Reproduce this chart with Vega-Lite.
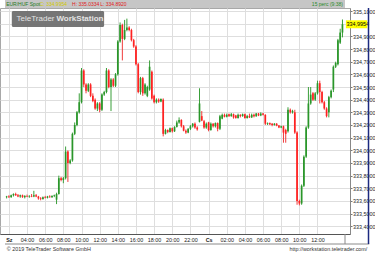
{
 "$schema": "https://vega.github.io/schema/vega-lite/v6.json",
 "width": 350,
 "height": 226,
 "autosize": {"type": "none"},
 "padding": {"left": 0, "top": 8, "right": 25, "bottom": 19},
 "background": "white",
 "config": {
  "view": {"stroke": "#a8a8a8", "strokeWidth": 1},
  "font": "Liberation Sans",
  "text": {"font": "Liberation Sans"},
  "axis": {"labelFont": "Liberation Sans"}
 },
 "data": {"values": [
{"t":1.75,"o":333.63,"h":333.64,"l":333.62,"c":333.635},
{"t":2.0,"o":333.635,"h":333.645,"l":333.625,"c":333.63},
{"t":2.25,"o":333.63,"h":333.65,"l":333.625,"c":333.645},
{"t":2.5,"o":333.645,"h":333.66,"l":333.635,"c":333.655},
{"t":2.75,"o":333.655,"h":333.665,"l":333.64,"c":333.645},
{"t":3.0,"o":333.645,"h":333.655,"l":333.63,"c":333.635},
{"t":3.25,"o":333.635,"h":333.65,"l":333.625,"c":333.645},
{"t":3.5,"o":333.645,"h":333.65,"l":333.625,"c":333.63},
{"t":3.75,"o":333.63,"h":333.645,"l":333.62,"c":333.64},
{"t":4.0,"o":333.64,"h":333.65,"l":333.63,"c":333.635},
{"t":4.25,"o":333.635,"h":333.645,"l":333.625,"c":333.64},
{"t":4.5,"o":333.64,"h":333.655,"l":333.63,"c":333.635},
{"t":4.75,"o":333.635,"h":333.68,"l":333.63,"c":333.645},
{"t":5.0,"o":333.645,"h":333.655,"l":333.63,"c":333.635},
{"t":5.25,"o":333.635,"h":333.64,"l":333.61,"c":333.62},
{"t":5.5,"o":333.62,"h":333.63,"l":333.605,"c":333.615},
{"t":5.75,"o":333.615,"h":333.635,"l":333.61,"c":333.63},
{"t":6.0,"o":333.63,"h":333.64,"l":333.62,"c":333.625},
{"t":6.25,"o":333.625,"h":333.64,"l":333.62,"c":333.635},
{"t":6.5,"o":333.635,"h":333.645,"l":333.625,"c":333.63},
{"t":6.75,"o":333.63,"h":333.645,"l":333.625,"c":333.64},
{"t":7.0,"o":333.64,"h":333.65,"l":333.63,"c":333.645},
{"t":7.25,"o":333.61,"h":333.665,"l":333.575,"c":333.655},
{"t":7.5,"o":333.655,"h":333.80,"l":333.65,"c":333.78},
{"t":7.75,"o":333.78,"h":333.79,"l":333.755,"c":333.765},
{"t":8.0,"o":333.765,"h":333.79,"l":333.74,"c":333.78},
{"t":8.25,"o":333.78,"h":334.03,"l":333.77,"c":333.99},
{"t":8.5,"o":333.99,"h":334.00,"l":333.75,"c":333.90},
{"t":8.75,"o":333.90,"h":333.93,"l":333.89,"c":333.92},
{"t":9.0,"o":333.92,"h":334.14,"l":333.91,"c":334.13},
{"t":9.25,"o":334.13,"h":334.22,"l":334.12,"c":334.20},
{"t":9.5,"o":334.20,"h":334.31,"l":334.19,"c":334.30},
{"t":9.75,"o":334.30,"h":334.45,"l":334.29,"c":334.38},
{"t":10.0,"o":334.38,"h":334.65,"l":334.37,"c":334.63},
{"t":10.25,"o":334.63,"h":334.64,"l":334.50,"c":334.52},
{"t":10.5,"o":334.52,"h":334.53,"l":334.45,"c":334.47},
{"t":10.75,"o":334.47,"h":334.53,"l":334.46,"c":334.52},
{"t":11.0,"o":334.52,"h":334.53,"l":334.42,"c":334.43},
{"t":11.25,"o":334.43,"h":334.45,"l":334.38,"c":334.39},
{"t":11.5,"o":334.40,"h":334.41,"l":334.32,"c":334.33},
{"t":11.75,"o":334.33,"h":334.38,"l":334.31,"c":334.37},
{"t":12.0,"o":334.37,"h":334.38,"l":334.30,"c":334.32},
{"t":12.25,"o":334.32,"h":334.45,"l":334.31,"c":334.44},
{"t":12.5,"o":334.44,"h":334.47,"l":334.43,"c":334.46},
{"t":12.75,"o":334.46,"h":334.65,"l":334.45,"c":334.63},
{"t":13.0,"o":334.63,"h":334.64,"l":334.49,"c":334.50},
{"t":13.25,"o":334.50,"h":334.57,"l":334.31,"c":334.56},
{"t":13.5,"o":334.56,"h":334.57,"l":334.50,"c":334.51},
{"t":13.75,"o":334.51,"h":334.61,"l":334.50,"c":334.60},
{"t":14.0,"o":334.60,"h":334.87,"l":334.59,"c":334.86},
{"t":14.25,"o":334.86,"h":335.01,"l":334.85,"c":334.99},
{"t":14.5,"o":334.99,"h":335.00,"l":334.71,"c":334.88},
{"t":14.75,"o":334.88,"h":335.03,"l":334.87,"c":334.95},
{"t":15.0,"o":334.95,"h":335.04,"l":334.94,"c":334.97},
{"t":15.25,"o":334.97,"h":334.98,"l":334.94,"c":334.95},
{"t":15.5,"o":334.95,"h":334.96,"l":334.86,"c":334.87},
{"t":15.75,"o":334.87,"h":334.88,"l":334.81,"c":334.82},
{"t":16.0,"o":334.82,"h":334.83,"l":334.67,"c":334.68},
{"t":16.25,"o":334.68,"h":334.69,"l":334.45,"c":334.46},
{"t":16.5,"o":334.46,"h":334.58,"l":334.44,"c":334.57},
{"t":16.75,"o":334.57,"h":334.58,"l":334.43,"c":334.45},
{"t":17.0,"o":334.45,"h":334.53,"l":334.44,"c":334.52},
{"t":17.25,"o":334.43,"h":334.51,"l":334.42,"c":334.50},
{"t":17.5,"o":334.48,"h":334.71,"l":334.47,"c":334.66},
{"t":17.75,"o":334.62,"h":334.63,"l":334.40,"c":334.41},
{"t":18.0,"o":334.43,"h":334.44,"l":334.37,"c":334.38},
{"t":18.25,"o":334.38,"h":334.41,"l":334.37,"c":334.40},
{"t":18.5,"o":334.40,"h":334.41,"l":334.375,"c":334.385},
{"t":18.75,"o":334.385,"h":334.41,"l":334.38,"c":334.405},
{"t":19.0,"o":334.40,"h":334.41,"l":334.11,"c":334.13},
{"t":19.25,"o":334.13,"h":334.17,"l":334.125,"c":334.16},
{"t":19.5,"o":334.16,"h":334.165,"l":334.135,"c":334.145},
{"t":19.75,"o":334.145,"h":334.18,"l":334.14,"c":334.175},
{"t":20.0,"o":334.175,"h":334.18,"l":334.14,"c":334.15},
{"t":20.25,"o":334.15,"h":334.19,"l":334.145,"c":334.185},
{"t":20.5,"o":334.185,"h":334.235,"l":334.18,"c":334.22},
{"t":20.75,"o":334.22,"h":334.26,"l":334.21,"c":334.24},
{"t":21.0,"o":334.24,"h":334.245,"l":334.18,"c":334.19},
{"t":21.25,"o":334.19,"h":334.20,"l":334.15,"c":334.155},
{"t":21.5,"o":334.155,"h":334.165,"l":334.13,"c":334.14},
{"t":21.75,"o":334.14,"h":334.175,"l":334.135,"c":334.17},
{"t":22.0,"o":334.17,"h":334.20,"l":334.16,"c":334.19},
{"t":22.25,"o":334.19,"h":334.215,"l":334.18,"c":334.21},
{"t":22.5,"o":334.21,"h":334.22,"l":334.17,"c":334.18},
{"t":22.75,"o":334.18,"h":334.19,"l":334.155,"c":334.165},
{"t":23.0,"o":334.225,"h":334.49,"l":334.22,"c":334.37},
{"t":23.25,"o":334.27,"h":334.31,"l":334.23,"c":334.235},
{"t":23.5,"o":334.23,"h":334.24,"l":334.17,"c":334.18},
{"t":23.75,"o":334.18,"h":334.22,"l":334.17,"c":334.21},
{"t":24.0,"o":334.22,"h":334.225,"l":334.15,"c":334.16},
{"t":24.25,"o":334.16,"h":334.22,"l":334.155,"c":334.21},
{"t":24.5,"o":334.21,"h":334.215,"l":334.18,"c":334.19},
{"t":24.75,"o":334.19,"h":334.22,"l":334.18,"c":334.215},
{"t":25.0,"o":334.215,"h":334.22,"l":334.15,"c":334.17},
{"t":25.25,"o":334.17,"h":334.28,"l":334.16,"c":334.27},
{"t":25.5,"o":334.25,"h":334.29,"l":334.245,"c":334.28},
{"t":25.75,"o":334.28,"h":334.29,"l":334.26,"c":334.265},
{"t":26.0,"o":334.265,"h":334.29,"l":334.26,"c":334.28},
{"t":26.25,"o":334.285,"h":334.29,"l":334.265,"c":334.27},
{"t":26.5,"o":334.27,"h":334.295,"l":334.265,"c":334.285},
{"t":26.75,"o":334.285,"h":334.29,"l":334.25,"c":334.26},
{"t":27.0,"o":334.275,"h":334.28,"l":334.25,"c":334.255},
{"t":27.25,"o":334.255,"h":334.29,"l":334.25,"c":334.28},
{"t":27.5,"o":334.28,"h":334.285,"l":334.26,"c":334.27},
{"t":27.75,"o":334.27,"h":334.29,"l":334.265,"c":334.285},
{"t":28.0,"o":334.285,"h":334.29,"l":334.25,"c":334.255},
{"t":28.25,"o":334.255,"h":334.28,"l":334.25,"c":334.27},
{"t":28.5,"o":334.27,"h":334.29,"l":334.255,"c":334.26},
{"t":28.75,"o":334.26,"h":334.29,"l":334.255,"c":334.28},
{"t":29.0,"o":334.28,"h":334.29,"l":334.26,"c":334.27},
{"t":29.25,"o":334.27,"h":334.295,"l":334.265,"c":334.29},
{"t":29.5,"o":334.29,"h":334.295,"l":334.27,"c":334.275},
{"t":29.75,"o":334.275,"h":334.30,"l":334.27,"c":334.29},
{"t":30.0,"o":334.29,"h":334.295,"l":334.275,"c":334.28},
{"t":30.25,"o":334.28,"h":334.285,"l":334.20,"c":334.21},
{"t":30.5,"o":334.21,"h":334.22,"l":334.20,"c":334.215},
{"t":30.75,"o":334.215,"h":334.22,"l":334.20,"c":334.205},
{"t":31.0,"o":334.21,"h":334.215,"l":334.19,"c":334.20},
{"t":31.25,"o":334.20,"h":334.215,"l":334.195,"c":334.21},
{"t":31.5,"o":334.21,"h":334.215,"l":334.19,"c":334.195},
{"t":31.75,"o":334.195,"h":334.20,"l":334.175,"c":334.18},
{"t":32.0,"o":334.18,"h":334.195,"l":334.175,"c":334.19},
{"t":32.25,"o":334.19,"h":334.195,"l":334.06,"c":334.14},
{"t":32.5,"o":334.16,"h":334.17,"l":334.06,"c":334.13},
{"t":32.75,"o":334.15,"h":334.34,"l":334.14,"c":334.32},
{"t":33.0,"o":334.32,"h":334.33,"l":334.29,"c":334.30},
{"t":33.25,"o":334.30,"h":334.32,"l":334.29,"c":334.31},
{"t":33.5,"o":334.30,"h":334.32,"l":334.13,"c":334.14},
{"t":33.75,"o":334.14,"h":334.15,"l":333.57,"c":333.60},
{"t":34.0,"o":333.60,"h":333.61,"l":333.565,"c":333.58},
{"t":34.25,"o":333.58,"h":333.73,"l":333.57,"c":333.72},
{"t":34.5,"o":333.72,"h":333.96,"l":333.71,"c":333.95},
{"t":34.75,"o":333.95,"h":334.19,"l":333.94,"c":334.18},
{"t":35.0,"o":334.18,"h":334.50,"l":334.17,"c":334.37},
{"t":35.25,"o":334.37,"h":334.50,"l":334.36,"c":334.44},
{"t":35.5,"o":334.45,"h":334.46,"l":334.39,"c":334.40},
{"t":35.75,"o":334.40,"h":334.46,"l":334.39,"c":334.45},
{"t":36.0,"o":334.45,"h":334.55,"l":334.44,"c":334.53},
{"t":36.25,"o":334.53,"h":334.55,"l":334.37,"c":334.46},
{"t":36.5,"o":334.46,"h":334.47,"l":334.37,"c":334.38},
{"t":36.75,"o":334.38,"h":334.39,"l":334.32,"c":334.33},
{"t":37.0,"o":334.33,"h":334.34,"l":334.26,"c":334.27},
{"t":37.25,"o":334.30,"h":334.43,"l":334.26,"c":334.42},
{"t":37.5,"o":334.42,"h":334.48,"l":334.41,"c":334.47},
{"t":37.75,"o":334.48,"h":334.67,"l":334.46,"c":334.66},
{"t":38.0,"o":334.66,"h":334.70,"l":334.65,"c":334.69},
{"t":38.25,"o":334.68,"h":334.88,"l":334.67,"c":334.87},
{"t":38.5,"o":334.85,"h":334.96,"l":334.84,"c":334.93},
{"t":38.75,"o":334.93,"h":335.0334,"l":334.892,"c":334.9954}
 ]},
 "layer": [
  {
   "mark": {"type": "rule", "strokeWidth": 1},
   "encoding": {
    "x": {"field": "t", "type": "quantitative",
     "scale": {"domain": [1.571, 39.03], "zero": false, "nice": false},
     "axis": {"orient": "bottom", "title": null, "tickCount": 60,
      "values": [2,4,6,8,10,12,14,16,18,20,22,24,26,28,30,32,34,36],
      "labelExpr": "datum.value == 2 ? 'Sz' : datum.value == 24 ? 'Cs' : ((datum.value % 24) < 10 ? '0' : '') + (datum.value % 24) + ':00'",
      "labelFontWeight": {"condition": {"test": "datum.value == 2 || datum.value == 24", "value": "bold"}, "value": "normal"},
      "ticks": false, "labelPadding": 3, "labelFontSize": 5.4, "labelColor": "#222222",
      "domainColor": "#555555", "grid": true, "gridColor": "#dedede",
      "labelFlush": false, "labelOverlap": false, "labelBound": false}},
    "y": {"field": "l", "type": "quantitative",
     "scale": {"domain": [333.339, 335.124], "zero": false, "nice": false},
     "axis": {"orient": "right", "title": null, "tickCount": 60,
      "values": [333.4,333.5,333.6,333.7,333.8,333.9,334.0,334.1,334.2,334.3,334.4,334.5,334.6,334.7,334.8,334.9,335.0,335.1],
      "labelExpr": "abs(datum.value - 335.0) < 0.001 ? '' : replace(format(datum.value, '.4f'), '.', ',')",
      "tickSize": 2, "tickColor": "#777777", "labelPadding": 0.5, "labelFontSize": 5.4,
      "labelColor": "#222222", "domainColor": "#888888", "grid": true, "gridColor": "#dedede",
      "labelAlign": "left", "labelBaseline": "middle", "labelOverlap": false, "labelBound": false}},
    "y2": {"field": "h"},
    "color": {"condition": {"test": "datum.c >= datum.o", "value": "#3a9f3a"}, "value": "#f03c3c"}
   }
  },
  {
   "mark": {"type": "bar", "size": 1.7},
   "encoding": {
    "x": {"field": "t", "type": "quantitative"},
    "y": {"field": "o", "type": "quantitative"},
    "y2": {"field": "c"},
    "color": {"condition": {"test": "datum.c >= datum.o", "value": "#2a962a"}, "value": "#ff2222"}
   }
  },
  {
   "data": {"values": [{}]},
   "mark": {"type": "rect", "color": "#c6c6c6"},
   "encoding": {
    "x": {"datum": 1.571, "type": "quantitative"}, "x2": {"datum": 39.03},
    "y": {"datum": 335.124, "type": "quantitative"}, "y2": {"datum": 335.2}
   }
  },
  {
   "data": {"values": [{}]},
   "mark": {"type": "text", "text": "EUR/HUF Spot", "align": "left", "baseline": "middle", "fontSize": 5, "color": "#1f7a1f"},
   "encoding": {"x": {"datum": 1.70, "type": "quantitative"}, "y": {"datum": 335.157, "type": "quantitative"}}
  },
  {
   "data": {"values": [{}]},
   "mark": {"type": "text", "text": "C: 334.9954", "align": "left", "baseline": "middle", "fontSize": 5, "color": "#d2c800"},
   "encoding": {"x": {"datum": 5.40, "type": "quantitative"}, "y": {"datum": 335.157, "type": "quantitative"}}
  },
  {
   "data": {"values": [{}]},
   "mark": {"type": "text", "text": "H: 335.0334", "align": "left", "baseline": "middle", "fontSize": 5, "color": "#e02020"},
   "encoding": {"x": {"datum": 8.96, "type": "quantitative"}, "y": {"datum": 335.157, "type": "quantitative"}}
  },
  {
   "data": {"values": [{}]},
   "mark": {"type": "text", "text": "L: 334.8920", "align": "left", "baseline": "middle", "fontSize": 5, "color": "#e02020"},
   "encoding": {"x": {"datum": 12.06, "type": "quantitative"}, "y": {"datum": 335.157, "type": "quantitative"}}
  },
  {
   "data": {"values": [{}]},
   "mark": {"type": "text", "text": "15 perc (9:38)", "align": "right", "baseline": "middle", "fontSize": 5, "color": "#2a8a2a"},
   "encoding": {"x": {"datum": 38.81, "type": "quantitative"}, "y": {"datum": 335.157, "type": "quantitative"}}
  },
  {
   "data": {"values": [{}]},
   "mark": {"type": "rect", "color": "#6a6a6a", "opacity": 0.92, "cornerRadius": 1.5},
   "encoding": {
    "x": {"datum": 2.32, "type": "quantitative"}, "x2": {"datum": 12.49},
    "y": {"datum": 335.100, "type": "quantitative"}, "y2": {"datum": 334.974}
   }
  },
  {
   "data": {"values": [{}]},
   "mark": {"type": "text", "text": "TeleTrader", "align": "right", "baseline": "middle", "fontSize": 8, "color": "#e4e4e4"},
   "encoding": {"x": {"datum": 7.03, "type": "quantitative"}, "y": {"datum": 335.037, "type": "quantitative"}}
  },
  {
   "data": {"values": [{}]},
   "mark": {"type": "text", "text": "WorkStation", "align": "left", "baseline": "middle", "fontSize": 8, "fontWeight": "bold", "color": "#e4e4e4"},
   "encoding": {"x": {"datum": 7.24, "type": "quantitative"}, "y": {"datum": 335.037, "type": "quantitative"}}
  },
  {
   "data": {"values": [{}]},
   "mark": {"type": "rect", "color": "#ffff00"},
   "encoding": {
    "x": {"datum": 39.13, "type": "quantitative"}, "x2": {"datum": 41.48},
    "y": {"datum": 335.027, "type": "quantitative"}, "y2": {"datum": 334.964}
   }
  },
  {
   "data": {"values": [{}]},
   "mark": {"type": "text", "text": "334,9954", "align": "left", "baseline": "middle", "fontSize": 5.4, "color": "#000000"},
   "encoding": {"x": {"datum": 39.19, "type": "quantitative"}, "y": {"datum": 334.9954, "type": "quantitative"}}
  },
  {
   "data": {"values": [{}]},
   "mark": {"type": "rule", "color": "#8a8a8a", "strokeWidth": 1},
   "encoding": {
    "x": {"datum": 1.571, "type": "quantitative"}, "x2": {"datum": 41.70},
    "y": {"datum": 333.26, "type": "quantitative"}
   }
  },
  {
   "data": {"values": [{}]},
   "mark": {"type": "rule", "color": "#8a8a8a", "strokeWidth": 1},
   "encoding": {
    "x": {"datum": 39.03, "type": "quantitative"},
    "y": {"datum": 333.339, "type": "quantitative"}, "y2": {"datum": 333.26}
   }
  },
  {
   "data": {"values": [{}]},
   "mark": {"type": "rule", "color": "#1c2a80", "strokeWidth": 1.5},
   "encoding": {
    "x": {"datum": 41.62, "type": "quantitative"},
    "y": {"datum": 335.124, "type": "quantitative"}, "y2": {"datum": 333.26}
   }
  },
  {
   "data": {"values": [{}]},
   "mark": {"type": "text", "text": "© 2019 TeleTrader Software GmbH", "align": "left", "baseline": "middle", "fontSize": 5.4, "color": "#333333"},
   "encoding": {"x": {"datum": 1.76, "type": "quantitative"}, "y": {"datum": 333.2205, "type": "quantitative"}}
  },
  {
   "data": {"values": [{}]},
   "mark": {"type": "text", "text": "http://workstation.teletrader.com/", "align": "right", "baseline": "middle", "fontSize": 5.4, "color": "#333333"},
   "encoding": {"x": {"datum": 41.49, "type": "quantitative"}, "y": {"datum": 333.2205, "type": "quantitative"}}
  }
 ]
}
